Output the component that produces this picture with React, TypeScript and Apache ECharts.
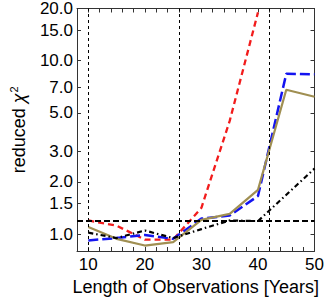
import React, { useEffect, useRef } from "react";
import * as echarts from "echarts";

const years = [10, 15, 20, 25, 30, 35, 40, 45, 50];
const redSeries = [1.2, 1.12, 0.93, 0.93, 1.42, 4.5, 19];
const blueSeries = [0.92, 0.95, 0.99, 0.94, 1.23, 1.28, 1.66, 8.4, 8.35];
const oliveSeries = [1.1, 0.94, 0.86, 0.9, 1.21, 1.31, 1.8, 6.8, 6.2];
const blackSeries = [1.02, 0.95, 1.05, 0.95, 1.07, 1.2, 1.19, null, 2.39];
const yTickValues = [1, 1.5, 2, 3, 5, 7, 10, 15, 20];
const xLabelValues = [10, 20, 30, 40, 50];
const verticalMarks = [10, 26, 42];
const threshold = 1.2;

const pairs = (vals: (number | null)[]) =>
  vals.map((v, i) => [years[i], v]).filter((p) => p[1] !== null);

export default function App() {
  const ref = useRef<HTMLDivElement>(null);
  useEffect(() => {
    const chart = echarts.init(ref.current!, null, { renderer: "svg" });
    const font = "Liberation Sans, Arial, sans-serif";
    const frame = { show: true, lineStyle: { color: "#333", width: 1 } };
    const xBase = {
      type: "value" as const,
      min: 8,
      max: 50,
      interval: 2,
      splitLine: { show: false },
      axisLine: frame,
      axisTick: { inside: true, length: 4, lineStyle: { color: "#333" } },
    };
    const yBase = {
      type: "log" as const,
      logBase: 10,
      min: 0.8,
      max: 20,
      splitLine: { show: false },
      axisLine: frame,
      axisTick: {
        inside: true,
        length: 4,
        customValues: yTickValues,
        lineStyle: { color: "#333" },
      },
    };
    chart.setOption({
      animation: false,
      grid: { left: 66, right: 10, top: 5, bottom: 45 },
      xAxis: [
        {
          ...xBase,
          position: "bottom",
          name: "Length of Observations [Years]",
          nameLocation: "middle",
          nameGap: 27,
          nameTextStyle: { fontSize: 18, color: "#000", fontFamily: font },
          axisLabel: {
            customValues: xLabelValues,
            fontSize: 17,
            color: "#000",
            fontFamily: font,
            margin: 5,
          },
        },
        { ...xBase, position: "top", axisLabel: { show: false } },
      ],
      yAxis: [
        {
          ...yBase,
          position: "left",
          name: "reduced {chi|χ}{sup|2}",
          nameLocation: "middle",
          nameGap: 47,
          nameTextStyle: {
            fontSize: 18,
            color: "#000",
            fontFamily: font,
            rich: {
              chi: { fontSize: 18, fontStyle: "italic", fontFamily: font, color: "#000" },
              sup: {
                fontSize: 11,
                fontFamily: font,
                color: "#000",
                verticalAlign: "bottom",
                padding: [0, 0, 11, 1],
              },
            },
          },
          axisLabel: {
            customValues: yTickValues,
            formatter: (v: number) => v.toFixed(1),
            fontSize: 17,
            color: "#000",
            fontFamily: font,
            margin: 4,
          },
        },
        { ...yBase, position: "right", axisLabel: { show: false } },
      ],
      series: [
        {
          type: "line",
          data: pairs(redSeries),
          showSymbol: false,
          lineStyle: { color: "#f21c1c", width: 2.3, type: [6, 4] },
          z: 3,
          markLine: {
            silent: true,
            symbol: "none",
            label: { show: false },
            data: verticalMarks.map((x) => ({
              xAxis: x,
              lineStyle: { color: "#000", width: 1, type: [3, 3] },
            })),
          },
        },
        {
          type: "line",
          data: pairs(blueSeries),
          showSymbol: false,
          lineStyle: { color: "#1414f0", width: 2.5, type: [10, 4] },
          z: 3,
        },
        {
          type: "line",
          data: pairs(oliveSeries),
          showSymbol: false,
          lineStyle: { color: "#a08f52", width: 2.2, type: "solid" },
          z: 4,
        },
        {
          type: "line",
          data: pairs(blackSeries),
          connectNulls: true,
          showSymbol: false,
          lineStyle: { color: "#000", width: 2.2, type: [5, 3, 1.5, 3] },
          z: 4,
          markLine: {
            silent: true,
            symbol: "none",
            label: { show: false },
            data: [
              {
                yAxis: threshold,
                lineStyle: { color: "#000", width: 1.8, type: [6, 3] },
              },
            ],
          },
        },
      ],
    });
    return () => chart.dispose();
  }, []);
  return (
    <div
      ref={ref}
      style={{ position: "absolute", left: 0, top: 0, width: 327, height: 301 }}
    />
  );
}
